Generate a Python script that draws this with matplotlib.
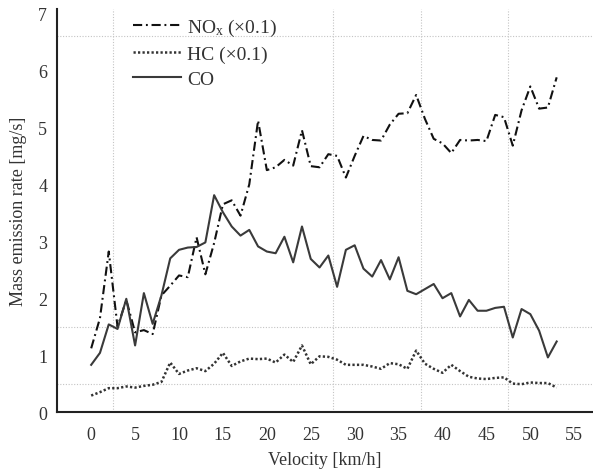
import matplotlib
matplotlib.use("Agg")
import matplotlib.pyplot as plt

velocity = list(range(54))
nox = [1.12, 1.65, 2.82, 1.50, 1.97, 1.40, 1.44, 1.37, 2.05, 2.22,
       2.40, 2.37, 3.07, 2.42, 2.97, 3.65, 3.72, 3.45, 4.00, 5.12,
       4.25, 4.30, 4.43, 4.33, 4.95, 4.32, 4.30, 4.53, 4.50, 4.12,
       4.50, 4.85, 4.78, 4.77, 5.05, 5.24, 5.25, 5.57, 5.15, 4.80,
       4.72, 4.55, 4.78, 4.77, 4.78, 4.76, 5.22, 5.18, 4.68, 5.30,
       5.72, 5.33, 5.35, 5.88]
hc = [0.29, 0.35, 0.42, 0.42, 0.45, 0.43, 0.46, 0.48, 0.53, 0.87,
      0.67, 0.73, 0.77, 0.72, 0.85, 1.04, 0.81, 0.89, 0.94, 0.93,
      0.94, 0.87, 1.01, 0.88, 1.17, 0.84, 0.98, 0.97, 0.92, 0.83,
      0.83, 0.83, 0.80, 0.76, 0.86, 0.84, 0.76, 1.08, 0.85, 0.76,
      0.69, 0.83, 0.72, 0.62, 0.59, 0.58, 0.60, 0.61, 0.50, 0.49,
      0.52, 0.51, 0.51, 0.43]
co = [0.83, 1.04, 1.54, 1.46, 1.99, 1.17, 2.09, 1.55, 2.05, 2.70,
      2.85, 2.89, 2.90, 2.98, 3.81, 3.51, 3.26, 3.10, 3.20, 2.91,
      2.82, 2.79, 3.08, 2.63, 3.26, 2.69, 2.54, 2.75, 2.20, 2.85,
      2.93, 2.52, 2.38, 2.67, 2.33, 2.72, 2.13, 2.07, 2.16, 2.25,
      2.00, 2.09, 1.68, 1.97, 1.78, 1.78, 1.83, 1.85, 1.31, 1.81,
      1.72, 1.43, 0.96, 1.24]

xticks = list(range(0, 56, 5))
yticks = list(range(0, 8))
vgrid = [2.5, 27.5, 37.5, 47.5]
hgrid = [0.5, 1.5, 6.6]

plt.rcParams['font.family'] = ['Liberation Serif', 'DejaVu Serif']
plt.rcParams['mathtext.fontset'] = 'custom'
plt.rcParams['mathtext.rm'] = 'Liberation Serif'
plt.rcParams['mathtext.it'] = 'Liberation Serif:italic'

txt = '#333333'
fig = plt.figure(figsize=(5.93, 4.77), dpi=100)
ax = fig.add_axes([0.096, 0.134, 0.902, 0.845])

for g in vgrid:
    ax.axvline(g, color='#c4c4c4', lw=0.8, ls=(0, (1, 1.5)), zorder=0)
for g in hgrid:
    ax.axhline(g, color='#c4c4c4', lw=0.8, ls=(0, (1, 1.5)), zorder=0)

ax.plot(velocity, nox, color='#111111', lw=1.5, ls=(0, (4.4, 1.8, 0.9, 1.8)),
        label=r'NO$_{\mathrm{x}}$ (×0.1)')
ax.plot(velocity, hc, color='#333333', lw=1.8, ls=(0, (0.9, 0.9)),
        label='HC (×0.1)')
ax.plot(velocity, co, color='#3a3a3a', lw=1.5, ls='-', label='CO')

ax.set_xlim(-3.9, 57)
ax.set_ylim(0, 7.08)
ax.set_xticks(xticks)
ax.set_yticks(yticks)
ax.tick_params(axis='both', length=0, labelsize=13, labelcolor=txt)
ax.tick_params(axis='x', pad=10)
ax.tick_params(axis='y', pad=7)
for s in ['top', 'right']:
    ax.spines[s].set_visible(False)
for s in ['left', 'bottom']:
    ax.spines[s].set_linewidth(1.5)
    ax.spines[s].set_color('#222222')

ax.set_xlabel('Velocity [km/h]', fontsize=13, color=txt, labelpad=6)
ax.set_ylabel('Mass emission rate [mg/s]', fontsize=13, color=txt, labelpad=8)

leg = ax.legend(loc='upper left', bbox_to_anchor=(0.142, 0.98), frameon=False,
                fontsize=14, handlelength=2.5, handletextpad=0.3,
                borderpad=0, borderaxespad=0, labelspacing=0.38)
for t in leg.get_texts():
    t.set_color(txt)

fig.savefig('out.png', dpi=100)
